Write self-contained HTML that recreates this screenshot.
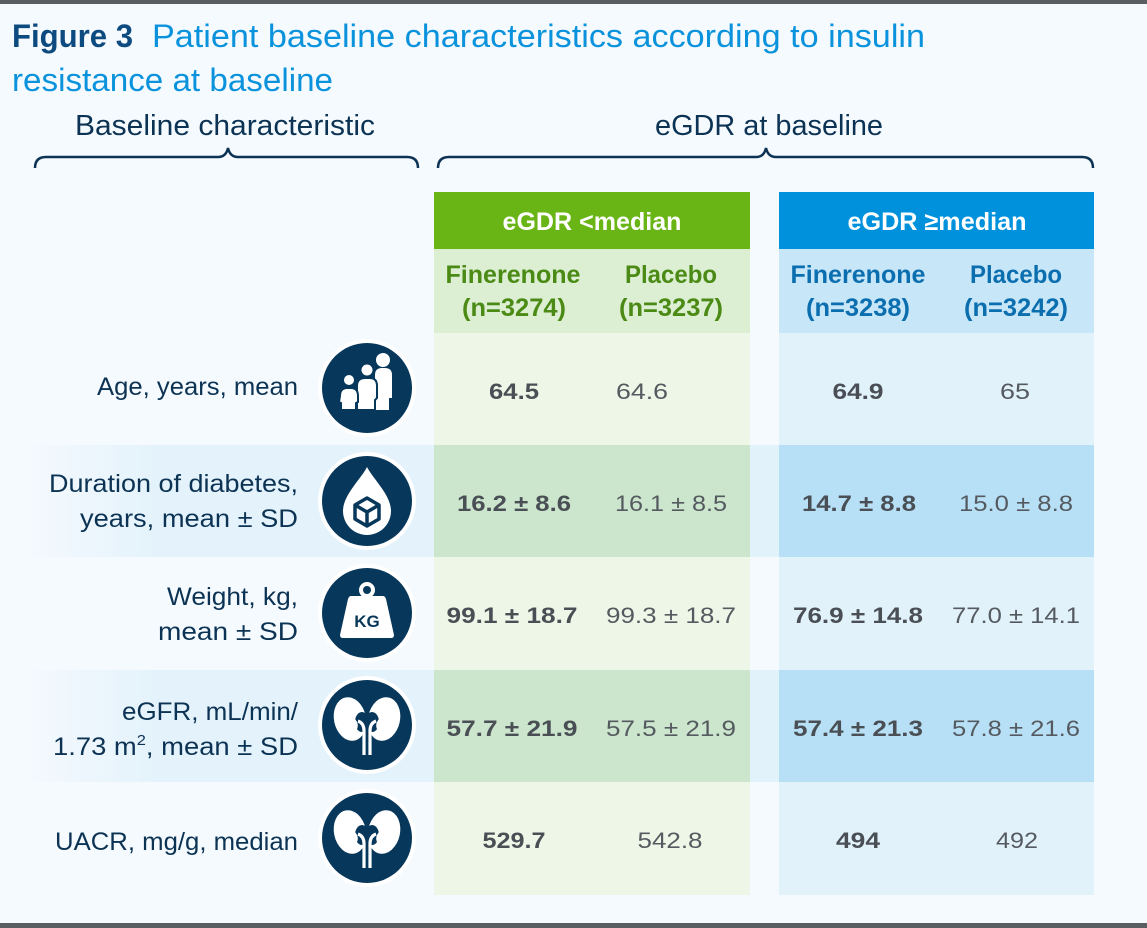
<!DOCTYPE html>
<html>
<head>
<meta charset="utf-8">
<style>
html,body{margin:0;padding:0;background:#f5fafe;}
svg{display:block;}
text{font-family:"Liberation Sans",Arial,sans-serif;}
</style>
</head>
<body>
<svg width="1147" height="928" viewBox="0 0 1147 928" xmlns="http://www.w3.org/2000/svg">
<defs>
<linearGradient id="band" x1="20" y1="0" x2="434" y2="0" gradientUnits="userSpaceOnUse">
<stop offset="0" stop-color="#e3f2fb" stop-opacity="0"/>
<stop offset="0.35" stop-color="#e3f2fb" stop-opacity="1"/>
<stop offset="1" stop-color="#e3f2fb" stop-opacity="1"/>
</linearGradient>
</defs>
<rect x="0" y="0" width="1147" height="928" fill="#f5fafe"/>
<rect x="0" y="0" width="1147" height="4" fill="#5a5e63"/>
<rect x="0" y="923" width="1147" height="5" fill="#5a5e63"/>

<!-- Title -->
<text x="12" y="47" font-size="32" font-weight="bold" fill="#0d4a80" textLength="121" lengthAdjust="spacingAndGlyphs">Figure 3</text>
<text x="152" y="47" font-size="32" fill="#0a93dc" textLength="773" lengthAdjust="spacingAndGlyphs">Patient baseline characteristics according to insulin</text>
<text x="12" y="91" font-size="32" fill="#0a93dc" textLength="321" lengthAdjust="spacingAndGlyphs">resistance at baseline</text>

<!-- Column group labels -->
<text x="75" y="135" font-size="29" fill="#0c3354" textLength="300" lengthAdjust="spacingAndGlyphs">Baseline characteristic</text>
<text x="655" y="135" font-size="29" fill="#0c3354" textLength="228" lengthAdjust="spacingAndGlyphs">eGDR at baseline</text>

<!-- Braces -->
<path d="M35,168 Q35,157 46,157 L218,157 Q226,157 228,148 Q230,157 238,157 L407,157 Q418,157 418,168" fill="none" stroke="#0c3354" stroke-width="2.5"/>
<path d="M438,168 Q438,157 449,157 L756,157 Q764,157 766,148 Q768,157 776,157 L1082,157 Q1093,157 1093,168" fill="none" stroke="#0c3354" stroke-width="2.5"/>

<!-- Bands in dark rows -->
<rect x="20" y="445" width="414" height="112" fill="url(#band)"/>
<rect x="20" y="670" width="414" height="112" fill="url(#band)"/>
<rect x="750" y="445" width="29" height="112" fill="#e2f2fb"/>
<rect x="750" y="670" width="29" height="112" fill="#e2f2fb"/>

<!-- Green panel -->
<rect x="434" y="192" width="316" height="57" fill="#69b516"/>
<rect x="434" y="249" width="316" height="84" fill="#dcefd3"/>
<rect x="434" y="333" width="316" height="112" fill="#eef7e7"/>
<rect x="434" y="445" width="316" height="112" fill="#cbe6cc"/>
<rect x="434" y="557" width="316" height="113" fill="#eef7e7"/>
<rect x="434" y="670" width="316" height="112" fill="#cbe6cc"/>
<rect x="434" y="782" width="316" height="113" fill="#eef7e7"/>

<!-- Blue panel -->
<rect x="779" y="192" width="315" height="57" fill="#0091dd"/>
<rect x="779" y="249" width="315" height="84" fill="#c7e6f8"/>
<rect x="779" y="333" width="315" height="112" fill="#e2f2fb"/>
<rect x="779" y="445" width="315" height="112" fill="#b7e0f6"/>
<rect x="779" y="557" width="315" height="113" fill="#e2f2fb"/>
<rect x="779" y="670" width="315" height="112" fill="#b7e0f6"/>
<rect x="779" y="782" width="315" height="113" fill="#e2f2fb"/>

<!-- Headers -->
<text x="592" y="230" font-size="25" font-weight="bold" fill="#ffffff" text-anchor="middle" textLength="179" lengthAdjust="spacingAndGlyphs">eGDR &lt;median</text>
<text x="937" y="230" font-size="25" font-weight="bold" fill="#ffffff" text-anchor="middle" textLength="179" lengthAdjust="spacingAndGlyphs">eGDR ≥median</text>

<g font-size="25" font-weight="bold" text-anchor="middle">
<text x="513" y="283" fill="#4b8a14" textLength="135" lengthAdjust="spacingAndGlyphs">Finerenone</text>
<text x="514" y="316" fill="#4b8a14" textLength="104" lengthAdjust="spacingAndGlyphs">(n=3274)</text>
<text x="671" y="283" fill="#4b8a14" textLength="92" lengthAdjust="spacingAndGlyphs">Placebo</text>
<text x="671" y="316" fill="#4b8a14" textLength="104" lengthAdjust="spacingAndGlyphs">(n=3237)</text>
<text x="858" y="283" fill="#0b6eaf" textLength="135" lengthAdjust="spacingAndGlyphs">Finerenone</text>
<text x="858" y="316" fill="#0b6eaf" textLength="104" lengthAdjust="spacingAndGlyphs">(n=3238)</text>
<text x="1016" y="283" fill="#0b6eaf" textLength="92" lengthAdjust="spacingAndGlyphs">Placebo</text>
<text x="1016" y="316" fill="#0b6eaf" textLength="104" lengthAdjust="spacingAndGlyphs">(n=3242)</text>
</g>

<!-- Row labels -->
<g font-size="25" fill="#0c3354" text-anchor="end">
<text x="298" y="395" textLength="201" lengthAdjust="spacingAndGlyphs">Age, years, mean</text>
<text x="298" y="492" textLength="249" lengthAdjust="spacingAndGlyphs">Duration of diabetes,</text>
<text x="298" y="527" textLength="218" lengthAdjust="spacingAndGlyphs">years, mean ± SD</text>
<text x="298" y="605" textLength="131" lengthAdjust="spacingAndGlyphs">Weight, kg,</text>
<text x="298" y="640" textLength="140" lengthAdjust="spacingAndGlyphs">mean ± SD</text>
<text x="298" y="720" textLength="176" lengthAdjust="spacingAndGlyphs">eGFR, mL/min/</text>
<text x="298" y="755" textLength="245" lengthAdjust="spacingAndGlyphs">1.73 m<tspan font-size="15" dy="-10">2</tspan><tspan dy="10">, mean ± SD</tspan></text>
<text x="298" y="850" textLength="243" lengthAdjust="spacingAndGlyphs">UACR, mg/g, median</text>
</g>

<!-- Data -->
<g font-size="22" text-anchor="middle">
<g font-weight="bold" fill="#4a4f55">
<text x="514" y="399" textLength="50" lengthAdjust="spacingAndGlyphs">64.5</text>
<text x="858" y="399" textLength="51" lengthAdjust="spacingAndGlyphs">64.9</text>
<text x="514" y="511" textLength="114" lengthAdjust="spacingAndGlyphs">16.2 ± 8.6</text>
<text x="859" y="511" textLength="114" lengthAdjust="spacingAndGlyphs">14.7 ± 8.8</text>
<text x="512" y="623" textLength="131" lengthAdjust="spacingAndGlyphs">99.1 ± 18.7</text>
<text x="858" y="623" textLength="130" lengthAdjust="spacingAndGlyphs">76.9 ± 14.8</text>
<text x="512" y="736" textLength="131" lengthAdjust="spacingAndGlyphs">57.7 ± 21.9</text>
<text x="858" y="736" textLength="130" lengthAdjust="spacingAndGlyphs">57.4 ± 21.3</text>
<text x="514" y="848" textLength="63" lengthAdjust="spacingAndGlyphs">529.7</text>
<text x="858" y="848" textLength="44" lengthAdjust="spacingAndGlyphs">494</text>
</g>
<g fill="#555a60">
<text x="642" y="399" textLength="52" lengthAdjust="spacingAndGlyphs">64.6</text>
<text x="1015" y="399" textLength="30" lengthAdjust="spacingAndGlyphs">65</text>
<text x="671" y="511" textLength="112" lengthAdjust="spacingAndGlyphs">16.1 ± 8.5</text>
<text x="1016" y="511" textLength="114" lengthAdjust="spacingAndGlyphs">15.0 ± 8.8</text>
<text x="671" y="623" textLength="130" lengthAdjust="spacingAndGlyphs">99.3 ± 18.7</text>
<text x="1016" y="623" textLength="128" lengthAdjust="spacingAndGlyphs">77.0 ± 14.1</text>
<text x="671" y="736" textLength="130" lengthAdjust="spacingAndGlyphs">57.5 ± 21.9</text>
<text x="1016" y="736" textLength="128" lengthAdjust="spacingAndGlyphs">57.8 ± 21.6</text>
<text x="670" y="848" textLength="65" lengthAdjust="spacingAndGlyphs">542.8</text>
<text x="1017" y="848" textLength="42" lengthAdjust="spacingAndGlyphs">492</text>
</g>
</g>

<!-- Icons -->
<!-- Age -->
<g transform="translate(367,388)">
<circle r="49" fill="#ffffff"/>
<circle r="45" fill="#07375a"/>
<circle cx="16" cy="-28" r="7" fill="#fff"/>
<path d="M8,-13 Q8,-20 15,-20 L18,-20 Q25,-20 25,-13 L25,10 L22,10 L22,22 L8,22 Z" fill="#fff"/>
<circle cx="0" cy="-18" r="6.5" fill="#fff" stroke="#07375a" stroke-width="2"/>
<path d="M-10,-2 Q-10,-10 -2,-10 L3,-10 Q10,-10 10,-2 L10,10 L8,12 L8,22 L-10,22 Z" fill="#fff" stroke="#07375a" stroke-width="2"/>
<circle cx="-18" cy="-8" r="6" fill="#fff" stroke="#07375a" stroke-width="2"/>
<path d="M-27,8 Q-27,0 -20,0 L-16,0 Q-9,0 -9,8 L-9,14 L-11,15 L-11,22 L-26,22 L-26,15 L-28,14 Z" fill="#fff" stroke="#07375a" stroke-width="2"/>
</g>
<!-- Drop -->
<g transform="translate(367,501)">
<circle r="49" fill="#ffffff"/>
<circle r="45" fill="#07375a"/>
<path d="M0,-34 C6,-22 24,-6 24,10 A24,24 0 0 1 -24,10 C-24,-6 -6,-22 0,-34 Z" fill="#fff"/>
<path d="M0,-3 L12,4 L12,18 L0,25 L-12,18 L-12,4 Z M-12,4 L0,11 L12,4 M0,11 L0,25" fill="none" stroke="#07375a" stroke-width="3.5" stroke-linejoin="round"/>
</g>
<!-- Weight -->
<g transform="translate(367,613)">
<circle r="49" fill="#ffffff"/>
<circle r="45" fill="#07375a"/>
<circle cx="0" cy="-23" r="8" fill="#fff"/>
<circle cx="0" cy="-23" r="4" fill="#07375a"/>
<path d="M-16,-17 L16,-17 Q18,-17 19,-14 L27,22 Q27,25 24,25 L-24,25 Q-27,25 -27,22 L-19,-14 Q-18,-17 -16,-17 Z" fill="#fff"/>
<text x="0" y="14" font-size="17" font-weight="bold" fill="#07375a" text-anchor="middle">KG</text>
</g>
<!-- Kidneys -->
<g id="kid" transform="translate(367,725)">
<circle r="49" fill="#ffffff"/>
<circle r="45" fill="#07375a"/>
<ellipse cx="-17" cy="-6" rx="16" ry="22" fill="#fff" transform="rotate(-12 -17 -6)"/>
<ellipse cx="17" cy="-6" rx="16" ry="22" fill="#fff" transform="rotate(12 17 -6)"/>
<ellipse cx="-5" cy="-3" rx="7" ry="10" fill="#07375a"/>
<ellipse cx="5" cy="-3" rx="7" ry="10" fill="#07375a"/>
<path d="M-14,-6 Q-8,0 -13,6" fill="none" stroke="#fff" stroke-width="3" stroke-linecap="round"/>
<path d="M14,-6 Q8,0 13,6" fill="none" stroke="#fff" stroke-width="3" stroke-linecap="round"/>
<path d="M-9,-4 Q-3,-2 -3,6 L-3,30" fill="none" stroke="#fff" stroke-width="3.2"/>
<path d="M9,-4 Q3,-2 3,6 L3,30" fill="none" stroke="#fff" stroke-width="3.2"/>
</g>
<g transform="translate(367,838)">
<circle r="49" fill="#ffffff"/>
<circle r="45" fill="#07375a"/>
<ellipse cx="-17" cy="-6" rx="16" ry="22" fill="#fff" transform="rotate(-12 -17 -6)"/>
<ellipse cx="17" cy="-6" rx="16" ry="22" fill="#fff" transform="rotate(12 17 -6)"/>
<ellipse cx="-5" cy="-3" rx="7" ry="10" fill="#07375a"/>
<ellipse cx="5" cy="-3" rx="7" ry="10" fill="#07375a"/>
<path d="M-14,-6 Q-8,0 -13,6" fill="none" stroke="#fff" stroke-width="3" stroke-linecap="round"/>
<path d="M14,-6 Q8,0 13,6" fill="none" stroke="#fff" stroke-width="3" stroke-linecap="round"/>
<path d="M-9,-4 Q-3,-2 -3,6 L-3,30" fill="none" stroke="#fff" stroke-width="3.2"/>
<path d="M9,-4 Q3,-2 3,6 L3,30" fill="none" stroke="#fff" stroke-width="3.2"/>
</g>
</svg>
</body>
</html>
